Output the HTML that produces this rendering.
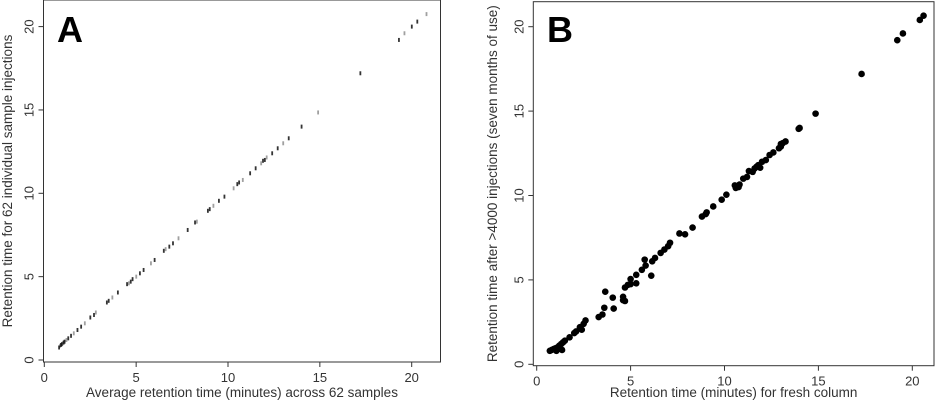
<!DOCTYPE html>
<html><head><meta charset="utf-8"><style>
body{margin:0;background:#fff;}
svg{display:block;font-family:"Liberation Sans",sans-serif;}
</style></head><body>
<svg id="c" width="940" height="400" viewBox="0 0 940 400"></svg>
<script>
const ticks=[0,5,10,15,20];
const tickLabels=["0","5","10","15","20"];
const aX=[0.8,0.85,0.9,0.95,1.0,1.05,1.1,1.2,1.3,1.45,1.6,1.8,2.0,2.2,2.5,2.7,2.8,3.4,3.5,3.7,4.0,4.5,4.6,4.7,4.8,5.0,5.2,5.4,5.8,6.0,6.5,6.6,6.8,7.0,7.3,7.8,8.2,8.3,8.9,9.0,9.2,9.5,9.8,10.3,10.5,10.6,10.8,11.2,11.5,11.8,11.9,12.0,12.1,12.4,12.7,13.0,13.3,14.0,14.9,17.2,19.3,19.6,20.0,20.3,20.8];
const aY=[0.75,0.85,0.9,0.95,1.0,1.05,1.1,1.2,1.3,1.45,1.6,1.8,2.0,2.2,2.55,2.7,2.85,3.45,3.55,3.75,4.05,4.55,4.6,4.7,4.85,5.0,5.2,5.4,5.8,6.0,6.55,6.65,6.8,7.0,7.3,7.8,8.25,8.3,8.95,9.05,9.25,9.55,9.8,10.3,10.55,10.65,10.8,11.2,11.5,11.8,11.95,12.0,12.15,12.4,12.7,13.0,13.3,14.0,14.85,17.2,19.2,19.6,20.0,20.3,20.75];
const bX=[0.7,0.8,0.9,1.0,1.05,1.1,1.2,1.3,1.35,1.4,1.5,1.75,2.0,2.1,2.3,2.4,2.5,2.6,3.3,3.5,3.6,3.65,4.05,4.1,4.6,4.6,4.7,4.7,4.85,5.0,5.0,5.3,5.3,5.6,5.75,5.8,6.1,6.15,6.3,6.6,6.8,7.0,7.1,7.6,7.9,8.3,8.8,9.0,9.05,9.4,9.85,10.1,10.55,10.6,10.75,10.8,11.0,11.2,11.3,11.5,11.6,11.7,11.8,11.9,12.0,12.2,12.4,12.6,12.9,13.0,13.0,13.1,13.25,13.95,14.0,14.85,17.3,19.2,19.5,20.4,20.6];
const bY=[0.8,0.85,0.9,0.95,0.8,1.0,1.1,1.2,0.85,1.3,1.4,1.6,1.85,1.95,2.2,2.05,2.4,2.6,2.8,2.95,3.35,4.3,3.95,3.3,4.0,3.8,3.75,4.55,4.7,4.75,5.05,5.3,4.8,5.6,6.2,5.85,5.25,6.1,6.3,6.6,6.8,7.0,7.2,7.75,7.7,8.1,8.75,8.9,9.0,9.35,9.75,10.05,10.6,10.45,10.5,10.65,11.0,11.1,11.45,11.4,11.6,11.7,11.8,11.65,12.0,12.1,12.4,12.55,12.8,12.9,13.05,13.1,13.2,13.95,14.0,14.85,17.2,19.2,19.6,20.4,20.65];
const NS="http://www.w3.org/2000/svg";
const svg=document.getElementById('c');
function mk(t,a,p){const e=document.createElementNS(NS,t);for(const k in a)e.setAttribute(k,a[k]);(p||svg).appendChild(e);return e;}
function panel(cfg){
  const g=mk('g',{});
  
  
  const sx=v=>cfg.x0+v*cfg.kx, sy=v=>cfg.y0-v*cfg.ky;
  const box=mk('rect',{x:cfg.bl,y:cfg.bt,width:cfg.br-cfg.bl,height:cfg.bb-cfg.bt,fill:'none',stroke:'#333','stroke-width':1},g);
  
  ticks.forEach((t,i)=>{
    const x=sx(t);
    mk('line',{x1:x,x2:x,y1:cfg.bb,y2:cfg.bb+5,stroke:'#333'},g);
    const tl=mk('text',{x:x,y:cfg.bb+20,'text-anchor':'middle','font-size':13,fill:'#333'},g);
    tl.textContent=tickLabels[i];
    
    const y=sy(t);
    mk('line',{x1:cfg.bl,x2:cfg.bl-5,y1:y,y2:y,stroke:'#333'},g);
    const yl=mk('text',{x:0,y:0,'text-anchor':'middle','font-size':13,fill:'#333',transform:`translate(${cfg.bl-10},${y}) rotate(-90)`},g);
    yl.textContent=tickLabels[i];
    
  });
  const xt=mk('text',{x:(cfg.bl+cfg.br)/2,y:397,'text-anchor':'middle','font-size':13.5,fill:'#333'},g);
  xt.textContent=cfg.xt;
  const yt=mk('text',{x:0,y:0,'text-anchor':'middle','font-size':13.5,fill:'#333',transform:`translate(${cfg.ytx},${(cfg.bt+cfg.bb)/2}) rotate(-90)`},g);
  yt.textContent=cfg.yt;
  const lab=mk('text',{x:cfg.lx,y:42,'font-size':36,'font-weight':'bold',fill:'#000'},g);
  lab.textContent=cfg.label;
  return {g,sx,sy};
}
const A=panel({name:'panel-a',bl:43.5,br:440.5,bt:0,bb:362,x0:44.3,kx:18.37,y0:360,ky:16.67,
  xt:'Average retention time (minutes) across 62 samples',yt:'Retention time for 62 individual sample injections',ytx:12,label:'A',lx:57});
aX.forEach((v,i)=>{
  const r=mk('rect',{x:A.sx(v)-0.8,y:A.sy(aY[i])-2,width:1.8,height:4,fill:'#111',opacity:(i%3==1?0.4:0.85)},A.g);
  
});
const B=panel({name:'panel-b',bl:533.3,br:934,bt:1.7,bb:365.7,x0:536.7,kx:18.78,y0:364.3,ky:16.88,
  xt:'Retention time (minutes) for fresh column',yt:'Retention time after >4000 injections (seven months of use)',ytx:497,label:'B',lx:547});
bX.forEach((v,i)=>{
  const c=mk('circle',{cx:B.sx(v),cy:B.sy(bY[i]),r:3.3,fill:'#000'},B.g);
  
});
</script>
</body></html>
